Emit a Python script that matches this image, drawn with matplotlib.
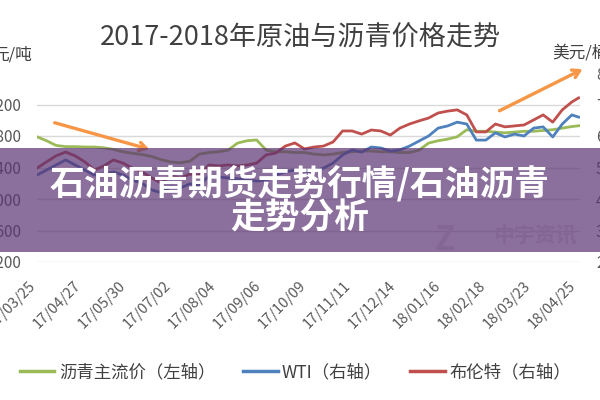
import matplotlib
matplotlib.use('Agg')
import matplotlib.pyplot as plt
import pandas as pd
from matplotlib.patches import Rectangle, FancyArrowPatch
from matplotlib.lines import Line2D

plt.rcParams['font.family'] = ['Noto Sans CJK SC', 'DejaVu Sans']

# weekly samples
dates = list(pd.date_range('2017-03-24', '2018-04-20', freq='7D')) + [pd.Timestamp('2018-04-25')]

asphalt = [2790, 2740, 2680, 2665, 2665, 2660, 2660, 2650, 2630, 2600,
           2580, 2565, 2540, 2500, 2470, 2460, 2480, 2570, 2590, 2600,
           2620, 2710, 2740, 2750, 2620, 2600, 2600, 2590, 2590, 2570,
           2560, 2570, 2590, 2600, 2610, 2610, 2600, 2600, 2590, 2590,
           2620, 2710, 2740, 2760, 2790, 2880, 2860, 2860, 2850, 2840,
           2850, 2860, 2860, 2870, 2880, 2900, 2920, 2930]
wti = [47.6, 49.2, 50.8, 52.4, 50.8, 49.2, 47.6, 48.0, 48.6, 47.6,
       46.0, 45.0, 42.9, 42.0, 43.8, 43.5, 44.8, 44.4, 47.3, 47.0,
       46.7, 46.4, 46.0, 45.7, 46.0, 47.6, 48.6, 49.2, 48.6, 48.9,
       49.8, 51.4, 54.0, 55.6, 54.9, 56.5, 56.2, 55.2, 55.6, 56.8,
       58.4, 60.0, 62.5, 63.2, 64.4, 63.8, 58.7, 58.7, 61.0, 59.7,
       60.6, 60.0, 62.5, 62.9, 59.7, 63.8, 66.7, 66.0]
brent = [49.8, 51.8, 53.7, 54.9, 53.7, 51.8, 49.2, 50.5, 52.4, 51.4,
         49.8, 48.6, 46.7, 45.1, 47.3, 46.7, 47.9, 47.6, 50.8, 50.5,
         50.8, 50.5, 50.8, 51.4, 54.0, 54.6, 56.8, 57.8, 55.9, 56.5,
         56.8, 58.1, 61.6, 61.6, 60.6, 61.9, 61.6, 60.3, 62.5, 63.8,
         64.8, 65.7, 67.3, 67.9, 68.3, 66.7, 61.3, 61.3, 63.8, 62.9,
         63.2, 63.5, 65.1, 66.7, 64.4, 68.3, 70.8, 72.1]

tick_labels = ['17/03/25', '17/04/27', '17/05/30', '17/07/02', '17/08/04',
               '17/09/06', '17/10/09', '17/11/11', '17/12/14', '18/01/16',
               '18/02/18', '18/03/23', '18/04/25']
left_ticks = [1200, 1600, 2000, 2400, 2800, 3200]
right_ticks = [20, 30, 40, 50, 60, 70, 80]

GREEN, BLUE, RED = '#9BBB59', '#4F81BD', '#C0504D'
TXT = '#595959'

fig = plt.figure(figsize=(6, 4), dpi=100)
ax = fig.add_axes([37 / 600, 1 - 262 / 400, 543 / 600, 189 / 400])
ax2 = ax.twinx()

ax.plot(dates, asphalt, color=GREEN, lw=2.0, zorder=3)
ax2.plot(dates, wti, color=BLUE, lw=2.0)
ax2.plot(dates, brent, color=RED, lw=2.0)

ax.set_xlim(pd.Timestamp('2017-03-24'), pd.Timestamp('2018-04-26'))
ax.set_ylim(1200, 3600)
ax2.set_ylim(20, 80)
ax.set_yticks(left_ticks)
ax2.set_yticks(right_ticks)
ax.set_xticks(pd.to_datetime(tick_labels, format='%y/%m/%d'))
ax.set_xticklabels(tick_labels, rotation=45, ha='right')
ax.grid(axis='y', color='#d9d9d9', lw=1)
ax.set_axisbelow(True)
for a in (ax, ax2):
    for s in a.spines.values():
        s.set_visible(False)
ax.tick_params(axis='y', length=0, pad=11, labelsize=11, labelcolor=TXT)
ax.tick_params(axis='x', length=0, pad=12, labelsize=10.5, labelcolor=TXT)
ax2.tick_params(axis='y', length=0, pad=11.5, labelsize=11, labelcolor=TXT)

fig.text(300 / 600, 1 - 38 / 400, '2017-2018年原油与沥青价格走势', ha='center', va='center',
         fontsize=19.5, color='#404040')
fig.text(32 / 600, 1 - 55 / 400, '元/吨', ha='right', va='center', fontsize=12, color='#404040')
fig.text(552 / 600, 1 - 53 / 400, '美元/桶', ha='left', va='center', fontsize=12, color='#404040')

handles = [Line2D([], [], color=c, lw=2.5) for c in (GREEN, BLUE, RED)]
fig.legend(handles, ['沥青主流价（左轴）', 'WTI（右轴）', '布伦特（右轴）'], loc='center',
           bbox_to_anchor=(0.492, 1 - 372 / 400), ncol=3, frameon=False, fontsize=12.5,
           handlelength=2.0, handletextpad=0.25, columnspacing=1.6, labelcolor='#404040')

# hand-drawn trend arrows
for p0, p1 in (((52, 122), (152, 150)), ((497, 112), (585, 68))):
    fig.add_artist(FancyArrowPatch((p0[0] / 600, 1 - p0[1] / 400), (p1[0] / 600, 1 - p1[1] / 400),
                                   transform=fig.transFigure, arrowstyle='->,head_length=5,head_width=3',
                                   color='#F79646', lw=2.4, zorder=4))

# watermark
fig.text(445 / 600, 1 - 240 / 400, 'Z', ha='center', va='center', fontsize=24, fontweight='bold',
         style='italic', color='#e4e0e6', zorder=4)
fig.text(535 / 600, 1 - 236 / 400, '中宇资讯', ha='center', va='center', fontsize=15,
         fontweight='bold', color='#e4e0e6', zorder=4)

# purple banner overlay
fig.add_artist(Rectangle((0, 1 - 252 / 400), 1, 104 / 400, transform=fig.transFigure,
                         facecolor='#5a3272', alpha=0.7, edgecolor='none', zorder=5))
fig.text(300 / 600, 1 - 183 / 400, '石油沥青期货走势行情/石油沥青', ha='center', va='center',
         fontsize=25, fontweight='bold', color='white', zorder=6)
fig.text(300 / 600, 1 - 218 / 400, '走势分析', ha='center', va='center',
         fontsize=25, fontweight='bold', color='white', zorder=6)

fig.savefig('out.png', dpi=100)
